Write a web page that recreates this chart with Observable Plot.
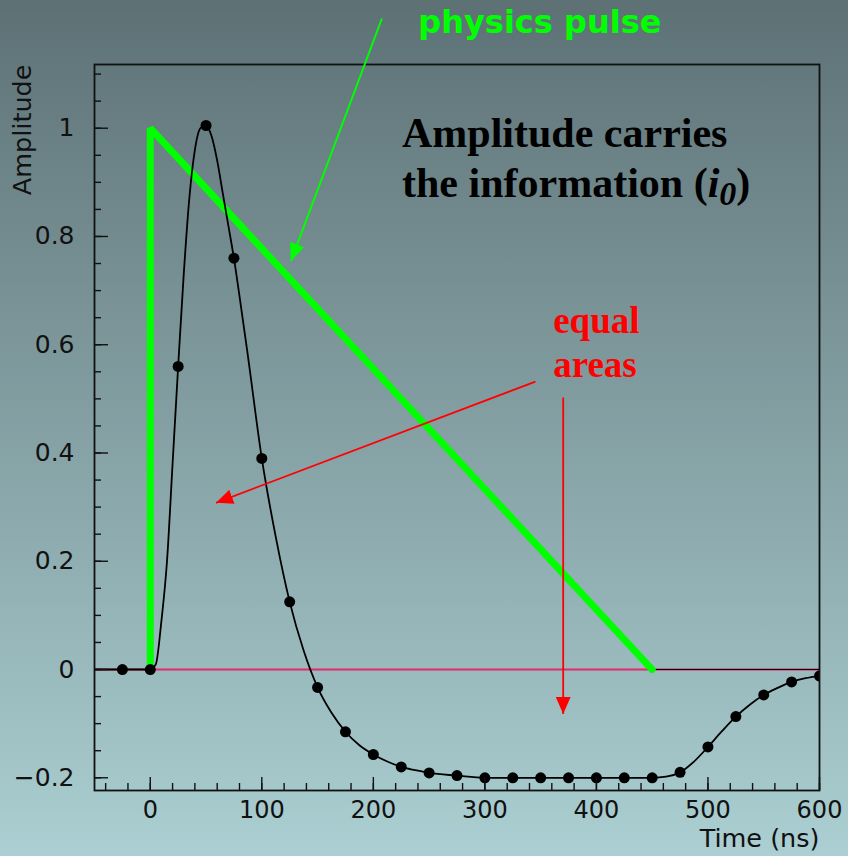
<!DOCTYPE html>
<html>
<head>
<meta charset="utf-8">
<script src="https://cdn.jsdelivr.net/npm/d3@7"></script>
<script src="https://cdn.jsdelivr.net/npm/@observablehq/plot@0.6"></script>
<style>
  html, body { margin: 0; padding: 0; width: 848px; height: 856px; overflow: hidden;
    background: linear-gradient(to bottom, #5d7175, #abcfd2); }
  svg { display: block; }
</style>
</head>
<body>
<div id="chart"></div>
<script>
// ---- shaped signal (continuous curve) ----
const curveTime = [-50, -25, 0, 5, 10, 15, 20, 25, 30, 35, 40, 45, 50, 55, 60, 65, 70, 75, 80, 87.5,
  100, 112.5, 125, 137.5, 150, 162.5, 175, 187.5, 200, 212.5, 225, 237.5, 250, 275, 300, 325, 350,
  375, 400, 425, 450, 462.5, 475, 487.5, 500, 512.5, 525, 537.5, 550, 562.5, 575, 587.5, 600];
const curveAmp = [0, 0, 0, 0.01, 0.09, 0.2, 0.38, 0.56, 0.73, 0.87, 0.96, 1.0, 1.005, 0.985, 0.94, 0.88, 0.82, 0.76, 0.69, 0.58,
  0.39, 0.245, 0.125, 0.035, -0.033, -0.08, -0.115, -0.14, -0.157, -0.17, -0.18, -0.186, -0.191, -0.196, -0.2, -0.2, -0.2,
  -0.2, -0.2, -0.2, -0.2, -0.198, -0.19, -0.17, -0.143, -0.114, -0.087, -0.065, -0.047, -0.034, -0.023, -0.016, -0.012];

// ---- samples every 25 ns ----
const sampleTime = [-25, 0, 25, 50, 75, 100, 125, 150, 175, 200, 225, 250, 275, 300, 325, 350, 375, 400,
  425, 450, 475, 500, 525, 550, 575, 600];
const sampleAmp = [0, 0, 0.56, 1.005, 0.76, 0.39, 0.125, -0.033, -0.115, -0.157, -0.18, -0.191, -0.196, -0.2, -0.2, -0.2, -0.2, -0.2,
  -0.2, -0.2, -0.19, -0.143, -0.087, -0.047, -0.023, -0.012];

// ---- triangular physics pulse ----
const pulseTime = [0, 0, 450, 600];
const pulseAmp = [0, 1, 0, 0];

// ---- axes ----
const xMajor = [0, 100, 200, 300, 400, 500, 600];
const xLabels = ["0", "100", "200", "300", "400", "500", "600"];
const xMinor = [-40, -20, 0, 20, 40, 60, 80, 100, 120, 140, 160, 180, 200, 220, 240, 260, 280, 300, 320, 340,
  360, 380, 400, 420, 440, 460, 480, 500, 520, 540, 560, 580, 600];
const yMajor = [-0.2, 0, 0.2, 0.4, 0.6, 0.8, 1];
const yLabels = ["\u22120.2", "0", "0.2", "0.4", "0.6", "0.8", "1"];
const yMinor = [-0.2, -0.15, -0.1, -0.05, 0, 0.05, 0.1, 0.15, 0.2, 0.25, 0.3, 0.35, 0.4, 0.45, 0.5, 0.55,
  0.6, 0.65, 0.7, 0.75, 0.8, 0.85, 0.9, 0.95, 1, 1.05, 1.1];

// ---- annotations (data coordinates) ----
const greenNote = [{t: 240.3, a: 1.175, text: "physics pulse"}];
const blackNote = [{t: 225.7, a: 0.965, text: "Amplitude carries"}, {t: 225.7, a: 0.8725, text: "the information (i0)"}];
const redNote = [{t: 361.2, a: 0.621, text: "equal"}, {t: 361.2, a: 0.540, text: "areas"}];
const greenArrow = [{t1: 207.7, a1: 1.2027, t2: 126.0, a2: 0.754}];
const redArrows = [{t1: 345.3, a1: 0.532, t2: 59.0, a2: 0.308}, {t1: 370.2, a1: 0.5025, t2: 370.2, a2: -0.082}];

const curve = curveTime.map((t, i) => ({t, a: curveAmp[i]}));
const samples = sampleTime.map((t, i) => ({t, a: sampleAmp[i]}));
const pulse = pulseTime.map((t, i) => ({t, a: pulseAmp[i]}));

const GREEN = "#00ff00", RED = "#ff0000";

const chart = Plot.plot({
  width: 848,
  height: 856,
  marginLeft: 94,
  marginRight: 29,
  marginTop: 64,
  marginBottom: 66,
  x: {domain: [-50, 600]},
  y: {domain: [-0.2235, 1.1177]},
  style: {background: "transparent", fontFamily: "DejaVu Sans", color: "black", overflow: "visible"},
  marks: [
    Plot.ruleY([0], {stroke: "#e4286c", strokeWidth: 2.2}),
    Plot.line(pulse, {x: "t", y: "a", stroke: "black", strokeWidth: 1.2}),
    Plot.line(pulse.slice(0, 3), {x: "t", y: "a", stroke: GREEN, strokeWidth: 7, strokeLinejoin: "bevel"}),
    Plot.line(curve, {x: "t", y: "a", curve: "monotone-x", stroke: "black", strokeWidth: 1.8, clip: true}),
    Plot.dot(samples, {x: "t", y: "a", r: 5.5, fill: "black", clip: true}),
    Plot.frame({stroke: "#111", strokeWidth: 1.8}),
    // ticks drawn inward
    Plot.axisX({ticks: xMinor, tickSize: -7, tickFormat: () => "", label: null, strokeWidth: 1.4, stroke: "#111"}),
    Plot.axisX({ticks: xMajor, tickSize: -13, tickFormat: () => "", label: null, strokeWidth: 1.4, stroke: "#111"}),
    Plot.axisY({ticks: yMinor, tickSize: -7, tickFormat: () => "", label: null, strokeWidth: 1.4, stroke: "#111"}),
    Plot.axisY({ticks: yMajor, tickSize: -14, tickFormat: () => "", label: null, strokeWidth: 1.4, stroke: "#111"}),
    // tick labels
    Plot.axisX({ticks: xMajor, tickSize: 0, tickPadding: 10, label: null, fontSize: 24, fill: "#111",
      tickFormat: d => xLabels[xMajor.indexOf(d)]}),
    Plot.axisY({ticks: yMajor, tickSize: 0, tickPadding: 20, label: null, fontSize: 25, fill: "#111",
      tickFormat: d => yLabels[yMajor.indexOf(d)]}),
    // axis titles
    Plot.text(["Time (ns)"], {frameAnchor: "bottom-right", textAnchor: "end", lineAnchor: "middle", dy: 48,
      fontSize: 25.5, fill: "#111", fontFamily: "DejaVu Sans"}),
    Plot.text(["Amplitude"], {frameAnchor: "top-left", textAnchor: "end", lineAnchor: "middle", rotate: -90, dx: -72, dy: 0,
      fontSize: 25.5, fill: "#111", fontFamily: "DejaVu Sans"}),
    // annotations
    Plot.link(greenArrow, {x1: "t1", y1: "a1", x2: "t2", y2: "a2", stroke: GREEN, strokeWidth: 2}),
    Plot.link(redArrows, {x1: "t1", y1: "a1", x2: "t2", y2: "a2", stroke: RED, strokeWidth: 1.8}),
    Plot.text(greenNote, {x: "t", y: "a", text: "text", textAnchor: "start", lineAnchor: "bottom",
      fill: GREEN, fontSize: 32, fontWeight: "bold", fontFamily: "DejaVu Sans"}),
    Plot.text(blackNote, {x: "t", y: "a", text: "text", textAnchor: "start", lineAnchor: "bottom",
      fill: "black", fontSize: 42, fontWeight: "bold", fontFamily: "Liberation Serif"}),
    Plot.text(redNote, {x: "t", y: "a", text: "text", textAnchor: "start", lineAnchor: "bottom",
      fill: RED, fontSize: 37, fontWeight: "bold", fontFamily: "Liberation Serif"})
  ]
});

// ---- post-process: filled arrowheads and subscript ----
const ns = "http://www.w3.org/2000/svg";
const defs = document.createElementNS(ns, "defs");
function makeHead(id, color, len, wid) {
  const m = document.createElementNS(ns, "marker");
  m.setAttribute("id", id);
  m.setAttribute("viewBox", `0 0 ${len} ${wid}`);
  m.setAttribute("refX", len);
  m.setAttribute("refY", wid / 2);
  m.setAttribute("markerWidth", len);
  m.setAttribute("markerHeight", wid);
  m.setAttribute("markerUnits", "userSpaceOnUse");
  m.setAttribute("orient", "auto");
  const p = document.createElementNS(ns, "path");
  p.setAttribute("d", `M0,0L${len},${wid / 2}L0,${wid}Z`);
  p.setAttribute("fill", color);
  p.setAttribute("stroke", "none");
  m.appendChild(p);
  defs.appendChild(m);
}
makeHead("head-green", GREEN, 18, 15);
makeHead("head-red", RED, 17, 15);
chart.insertBefore(defs, chart.firstChild);
chart.querySelectorAll('g[aria-label="link"]').forEach(g => {
  const c = (g.getAttribute("stroke") || "").toLowerCase();
  const id = c === GREEN ? "head-green" : "head-red";
  g.querySelectorAll("path, line").forEach(p => p.setAttribute("marker-end", `url(#${id})`));
});
chart.querySelectorAll("text").forEach(t => {
  if (t.textContent === "the information (i0)") {
    t.textContent = "";
    const parts = [
      {s: "the information (", attrs: {}},
      {s: "i", attrs: {"font-style": "italic"}},
      {s: "0", attrs: {"font-style": "italic", "font-size": "34", dy: "8"}},
      {s: ")", attrs: {dy: "-8"}}
    ];
    parts.forEach(({s, attrs}) => {
      const ts = document.createElementNS(ns, "tspan");
      for (const k in attrs) ts.setAttribute(k, attrs[k]);
      ts.textContent = s;
      t.appendChild(ts);
    });
  }
});
document.getElementById("chart").appendChild(chart);
</script>
</body>
</html>
